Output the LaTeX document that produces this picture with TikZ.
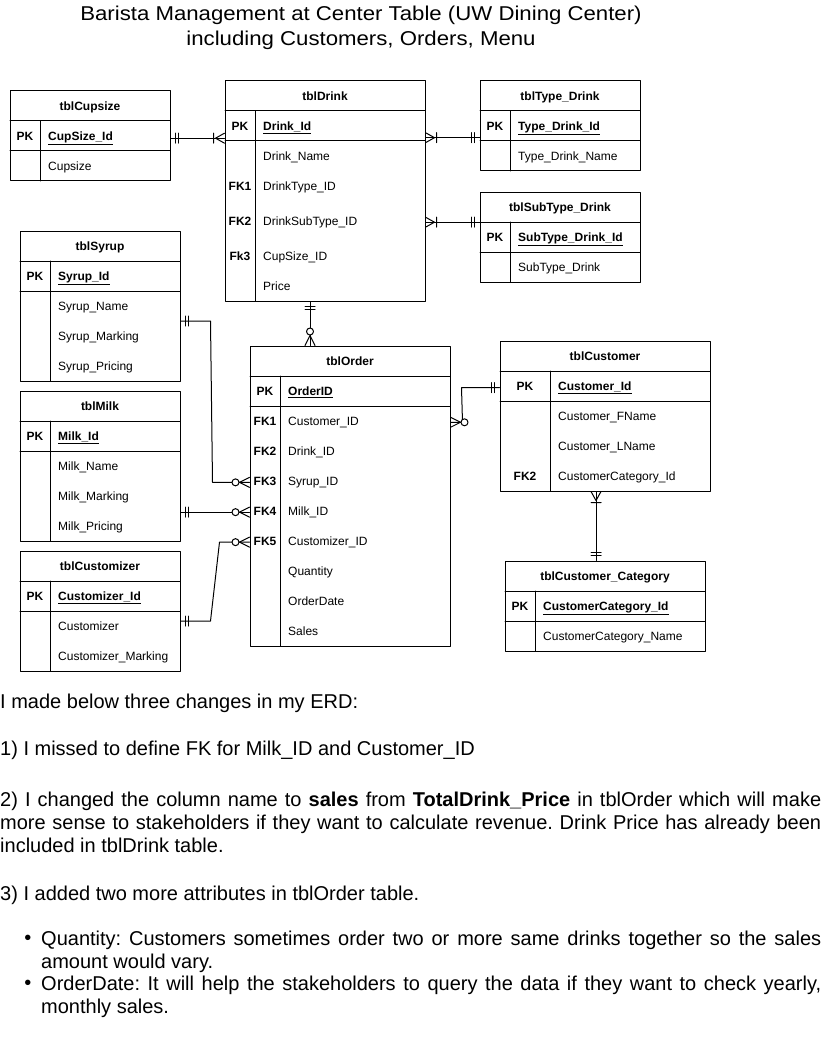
\documentclass[tikz,border=0pt]{standalone}
\usepackage{fontspec}
\setmainfont{Liberation Sans}
\newfontfamily\titlefont[FakeStretch=1.11]{Liberation Sans}
\usetikzlibrary{calc}
\frenchspacing
\tikzset{
	tbl/.style={draw, line width=1pt, inner sep=0pt},
	hdr/.style={anchor=base, yshift=-4.3pt, inner sep=0pt, font=\fontsize{12}{14}\selectfont\bfseries},
	key/.style={anchor=base, yshift=-4.3pt, inner sep=0pt, font=\fontsize{12}{14}\selectfont\bfseries},
	fld/.style={anchor=base west, yshift=-4.3pt, inner sep=0pt, font=\fontsize{12}{14}\selectfont},
	pkfld/.style={fld, font=\fontsize{12}{14}\selectfont\bfseries},
	rel/.style={line width=1pt},
	body/.style={anchor=north west, inner sep=0pt, text width=821pt, align=justify, font=\fontsize{20}{23}\selectfont},
	mandone/.pic={\draw[rel] (5,-5)--(5,5) (8,-5)--(8,5);},
	onemany/.pic={\draw[rel] (0,-5)--(9,0)--(0,5) (11,-5)--(11,5);},
	zeromany/.pic={\draw[rel] (0,-5)--(10,0)--(0,5); \draw[rel, fill=white] (14,0) circle (3.5);}
}
\begin{document}
\begin{tikzpicture}[x=1pt, y=-1pt, line join=round, line cap=round]
	\useasboundingbox (0,0) rectangle (821,1043);
	% title
	\node (title1) at (361,15) {\titlefont\fontsize{20}{24}\selectfont Barista Management at Center Table (UW Dining Center)};
	\node (title2) at (361,40) {\titlefont\fontsize{20}{24}\selectfont including Customers, Orders, Menu};

	% tblCupsize
	\node[tbl, minimum width=160, minimum height=90] (cup) at (90,136) {};
	\draw[line width=1pt] (10,121)--(170,121) (10,151)--(170,151) (40,121)--(40,181);
	\node[hdr] (cuphd) at (90,106) {tblCupsize};
	\node[key] (cuppk) at (25,136) {PK};
	\node[pkfld] (cupid) at (48,136) {\underline{CupSize\_Id}};
	\node[fld] (cupsz) at (48,166) {Cupsize};

	% tblDrink
	\node[tbl, minimum width=200, minimum height=220] (drink) at (325,191) {};
	\draw[line width=1pt] (225,111)--(425,111) (225,141)--(425,141) (255,111)--(255,301);
	\node[hdr] (drinkhd) at (325,96) {tblDrink};
	\node[key] (drinkpk) at (240,126) {PK};
	\node[pkfld] (drinkid) at (263,126) {\underline{Drink\_Id}};
	\node[fld] (drinkname) at (263,156) {Drink\_Name};
	\node[key] (drinkfk1) at (240,186) {FK1};
	\node[fld] (drinktype) at (263,186) {DrinkType\_ID};
	\node[key] (drinkfk2) at (240,221) {FK2};
	\node[fld] (drinksub) at (263,221) {DrinkSubType\_ID};
	\node[key] (drinkfk3) at (240,256) {Fk3};
	\node[fld] (drinkcup) at (263,256) {CupSize\_ID};
	\node[fld] (drinkprice) at (263,286) {Price};

	% tblType_Drink
	\node[tbl, minimum width=160, minimum height=90] (type) at (560,126) {};
	\draw[line width=1pt] (480,111)--(640,111) (480,141)--(640,141) (510,111)--(510,171);
	\node[hdr] (typehd) at (560,96) {tblType\_Drink};
	\node[key] (typepk) at (495,126) {PK};
	\node[pkfld] (typeid) at (518,126) {\underline{Type\_Drink\_Id}};
	\node[fld] (typename) at (518,156) {Type\_Drink\_Name};

	% tblSubType_Drink
	\node[tbl, minimum width=160, minimum height=90] (sub) at (560,237) {};
	\draw[line width=1pt] (480,222)--(640,222) (480,252)--(640,252) (510,222)--(510,282);
	\node[hdr] (subhd) at (560,207) {tblSubType\_Drink};
	\node[key] (subpk) at (495,237) {PK};
	\node[pkfld] (subid) at (518,237) {\underline{SubType\_Drink\_Id}};
	\node[fld] (subname) at (518,267) {SubType\_Drink};

	% tblSyrup
	\node[tbl, minimum width=160, minimum height=150] (syrup) at (100,306) {};
	\draw[line width=1pt] (20,261)--(180,261) (20,291)--(180,291) (50,261)--(50,381);
	\node[hdr] (syruphd) at (100,246) {tblSyrup};
	\node[key] (syruppk) at (35,276) {PK};
	\node[pkfld] (syrupid) at (58,276) {\underline{Syrup\_Id}};
	\node[fld] (syrupname) at (58,306) {Syrup\_Name};
	\node[fld] (syrupmark) at (58,336) {Syrup\_Marking};
	\node[fld] (syrupprice) at (58,366) {Syrup\_Pricing};

	% tblMilk
	\node[tbl, minimum width=160, minimum height=150] (milk) at (100,466) {};
	\draw[line width=1pt] (20,421)--(180,421) (20,451)--(180,451) (50,421)--(50,541);
	\node[hdr] (milkhd) at (100,406) {tblMilk};
	\node[key] (milkpk) at (35,436) {PK};
	\node[pkfld] (milkid) at (58,436) {\underline{Milk\_Id}};
	\node[fld] (milkname) at (58,466) {Milk\_Name};
	\node[fld] (milkmark) at (58,496) {Milk\_Marking};
	\node[fld] (milkprice) at (58,526) {Milk\_Pricing};

	% tblCustomizer
	\node[tbl, minimum width=160, minimum height=120] (custz) at (100,611) {};
	\draw[line width=1pt] (20,581)--(180,581) (20,611)--(180,611) (50,581)--(50,671);
	\node[hdr] (custzhd) at (100,566) {tblCustomizer};
	\node[key] (custzpk) at (35,596) {PK};
	\node[pkfld] (custzid) at (58,596) {\underline{Customizer\_Id}};
	\node[fld] (custzname) at (58,626) {Customizer};
	\node[fld] (custzmark) at (58,656) {Customizer\_Marking};

	% tblOrder
	\node[tbl, minimum width=200, minimum height=300] (order) at (350,496) {};
	\draw[line width=1pt] (250,376)--(450,376) (250,406)--(450,406) (280,376)--(280,646);
	\node[hdr] (orderhd) at (350,361) {tblOrder};
	\node[key] (orderpk) at (265,391) {PK};
	\node[pkfld] (orderid) at (288,391) {\underline{OrderID}};
	\node[key] (ofk1) at (265,421) {FK1};
	\node[fld] (ocust) at (288,421) {Customer\_ID};
	\node[key] (ofk2) at (265,451) {FK2};
	\node[fld] (odrink) at (288,451) {Drink\_ID};
	\node[key] (ofk3) at (265,481) {FK3};
	\node[fld] (osyrup) at (288,481) {Syrup\_ID};
	\node[key] (ofk4) at (265,511) {FK4};
	\node[fld] (omilk) at (288,511) {Milk\_ID};
	\node[key] (ofk5) at (265,541) {FK5};
	\node[fld] (ocustz) at (288,541) {Customizer\_ID};
	\node[fld] (oqty) at (288,571) {Quantity};
	\node[fld] (odate) at (288,601) {OrderDate};
	\node[fld] (osales) at (288,631) {Sales};

	% tblCustomer
	\node[tbl, minimum width=210, minimum height=150] (cust) at (605,416) {};
	\draw[line width=1pt] (500,371)--(710,371) (500,401)--(710,401) (550,371)--(550,491);
	\node[hdr] (custhd) at (605,356) {tblCustomer};
	\node[key] (custpk) at (525,386) {PK};
	\node[pkfld] (custid) at (558,386) {\underline{Customer\_Id}};
	\node[fld] (custfn) at (558,416) {Customer\_FName};
	\node[fld] (custln) at (558,446) {Customer\_LName};
	\node[key] (custfk2) at (525,476) {FK2};
	\node[fld] (custcat) at (558,476) {CustomerCategory\_Id};

	% tblCustomer_Category
	\node[tbl, minimum width=200, minimum height=90] (cat) at (605,606) {};
	\draw[line width=1pt] (505,591)--(705,591) (505,621)--(705,621) (535,591)--(535,651);
	\node[hdr] (cathd) at (605,576) {tblCustomer\_Category};
	\node[key] (catpk) at (520,606) {PK};
	\node[pkfld] (catid) at (543,606) {\underline{CustomerCategory\_Id}};
	\node[fld] (catname) at (543,636) {CustomerCategory\_Name};

	% relationships
	\draw[rel] (cup.east |- cupid) -- (drink.west |- cupid);
	\pic at (cup.east |- cupid) {mandone};
	\pic[rotate=180] at (drink.west |- cupid) {onemany};

	\coordinate (tk) at ($(drink.east |- drinkid)+(0,10)$);
	\draw[rel] (tk) -- (tk -| type.west);
	\pic at (tk) {onemany};
	\pic[rotate=180] at (tk -| type.west) {mandone};

	\draw[rel] (drink.east |- drinksub) -- (sub.west |- drinksub);
	\pic at (drink.east |- drinksub) {onemany};
	\pic[rotate=180] at (sub.west |- drinksub) {mandone};

	\coordinate (dk) at ($(drink.south)+(-15,0)$);
	\draw[rel] (dk) -- (dk |- order.north);
	\pic[rotate=-90] at (dk) {mandone};
	\pic[rotate=90] at (dk |- order.north) {zeromany};

	\draw[rel] ($(syrup.east)+(0,15)$) -- ++(30,0) -- ($(order.west |- osyrup)+(-37,0)$) -- (order.west |- osyrup);
	\pic at ($(syrup.east)+(0,15)$) {mandone};
	\pic[rotate=180] at (order.west |- osyrup) {zeromany};

	\draw[rel] (milk.east |- omilk) -- (order.west |- omilk);
	\pic at (milk.east |- omilk) {mandone};
	\pic[rotate=180] at (order.west |- omilk) {zeromany};

	\draw[rel] ($(custz.east)+(0,10)$) -- ++(30,0) -- ($(order.west |- ocustz)+(-30,0)$) -- (order.west |- ocustz);
	\pic at ($(custz.east)+(0,10)$) {mandone};
	\pic[rotate=180] at (order.west |- ocustz) {zeromany};

	\draw[rel] (order.east |- ocust) -- ++(12,0) -- ($(cust.west |- custid)+(-38,0)$) -- (cust.west |- custid);
	\pic at (order.east |- ocust) {zeromany};
	\pic[rotate=180] at (cust.west |- custid) {mandone};

	\coordinate (ck) at ($(cust.south)+(-9,0)$);
	\draw[rel] (ck) -- (ck |- cat.north);
	\pic[rotate=-90] at (ck) {onemany};
	\pic[rotate=90] at (ck |- cat.north) {mandone};

	% notes
	\node[body] (intro) at (0,694) {I made below three changes in my ERD:};
	\node[body] (note1) at (0,741) {1) I missed to define FK for Milk\_ID and Customer\_ID};
	\node[body] (note2) at (0,792) {2) I changed the column name to \textbf{sales} from \textbf{TotalDrink\_Price} in tblOrder which will make\linebreak more sense to stakeholders if they want to calculate revenue. Drink Price has already been\linebreak included in tblDrink table.};
	\node[body] (note3) at (0,886) {3) I added two more attributes in tblOrder table.};
	\node (bul1) at (28,940) {\fontsize{20}{23}\selectfont •};
	\node[body, text width=780pt] (item1) at (41,931) {Quantity: Customers sometimes order two or more same drinks together so the sales\linebreak amount would vary.};
	\node (bul2) at (28,985) {\fontsize{20}{23}\selectfont •};
	\node[body, text width=780pt] (item2) at (41,976) {OrderDate: It will help the stakeholders to query the data if they want to check yearly,\linebreak monthly sales.};
\end{tikzpicture}
\end{document}
